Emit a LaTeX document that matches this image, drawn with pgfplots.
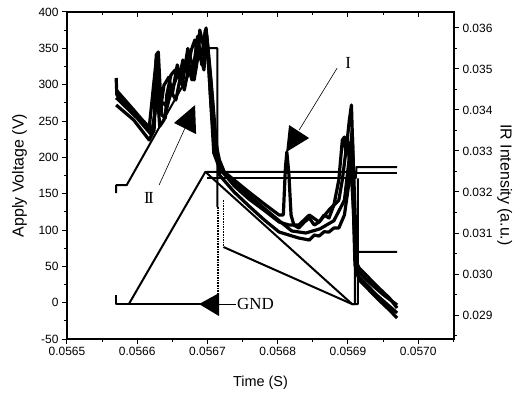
\documentclass[border=0pt]{standalone}
\usepackage{fontspec}
\setmainfont{Liberation Sans}
\newfontfamily\serifA{Liberation Serif}
\usepackage{pgfplots}
\pgfplotsset{compat=1.18}
\begin{document}
\begin{tikzpicture}
\pgfplotsset{
  common/.style={
    scale only axis, width=387bp, height=327bp,
    xmin=0.0565, xmax=0.057051,
    scaled x ticks=false, scaled y ticks=false,
    axis line style={line width=1.2bp},
    major tick length=5bp, minor tick length=3bp,
    tick style={line width=1bp, black},
    tick label style={font=\fontsize{12}{14}\selectfont},
    /pgf/number format/assume math mode=true,
    xtick={0.0565,0.0566,0.0567,0.0568,0.0569,0.0570},
    minor xtick={0.05655,0.05665,0.05675,0.05685,0.05695,0.05705},
    clip=false,
  },
  volt/.style={black, line width=2bp, line join=round, no markers},
  ir/.style={black, line width=3.2bp, line join=round, no markers},
}
% top ticks (inside)
\begin{axis}[common, ymin=-50, ymax=400,
  axis x line*=top, axis y line=none, tick align=inside,
  xticklabels={}]
\end{axis}
% main axis: voltage
\begin{axis}[common, name=main, ymin=-50, ymax=400,
  tick align=outside, xtick pos=bottom, ytick pos=left,
  xticklabels={0.0565,0.0566,0.0567,0.0568,0.0569,0.0570},
  ytick={-50,0,50,100,150,200,250,300,350,400},
  minor ytick={-25,25,75,125,175,225,275,325,375},
  xlabel={Time (S)}, ylabel={Apply Voltage (V)},
  every axis x label/.style={at={(axis description cs:0.5,-0.135)},anchor=center,font=\fontsize{14.5}{16}\selectfont},
  every axis y label/.style={at={(axis description cs:-0.123,0.5)},rotate=90,anchor=center,font=\fontsize{16}{18}\selectfont},
]
% voltage traces
\addplot[volt] coordinates {(0.056570,150.8)(0.056570,161.8)(0.056585,161.8)(0.056695,350.3)(0.056714,350.3)(0.056714,131.5)};
\addplot[black, line width=1.6bp, densely dotted, no markers] coordinates {(0.056715,131.5)(0.056715,-2)};
\addplot[volt] coordinates {(0.056570,10)(0.056570,-2)(0.056715,-2)};
\addplot[volt] coordinates {(0.056588,-2)(0.056697,180)(0.056912,180)(0.056912,186.6)(0.056970,186.6)};
\addplot[volt] coordinates {(0.056697,180)(0.056906,-2)(0.056910,-2)(0.056910,70)(0.056970,70)};
\addplot[volt] coordinates {(0.056700,171)(0.056912,171)(0.056912,178.4)(0.056970,178.4)};
\addplot[black, line width=1.6bp, densely dotted, no markers] coordinates {(0.056723,141)(0.056723,76.5)};
\addplot[volt] coordinates {(0.056723,76.5)(0.056906,-2)(0.056914,-2)(0.056914,171)};
% annotations
\draw[line width=0.6bp] (axis cs:0.0568846,322.8) -- (axis cs:0.0568305,237.5);
\fill (axis cs:0.0568162,244.4) -- (axis cs:0.0568447,226.5) -- (axis cs:0.0568120,207.2) -- cycle;
\node[font=\serifA\fontsize{17}{17}\selectfont] at (axis cs:0.0569003,329.7) {I};
\draw[line width=0.6bp] (axis cs:0.0566681,240.4) -- (axis cs:0.0566311,161.8);
\fill (axis cs:0.0566524,247.3) -- (axis cs:0.0566823,271.9) -- (axis cs:0.0566838,232.0) -- cycle;
\node[font=\serifA\fontsize{17}{17}\selectfont] at (axis cs:0.0566168,143.9) {I\kern-1.6pt I};
\fill (axis cs:0.0566880,-1.9) -- (axis cs:0.0567165,13.2) -- (axis cs:0.0567165,-18.4) -- cycle;
\draw[line width=0.8bp] (axis cs:0.0567165,-2) -- (axis cs:0.0567407,-2);
\node[anchor=west, inner sep=0pt, font=\serifA\fontsize{17}{17}\selectfont] at (axis cs:0.0567420,-2) {GND};
\end{axis}
% right axis: IR intensity
\begin{axis}[common, ymin=0.028415, ymax=0.03639,
  axis x line=none, axis y line*=right, tick align=outside,
  ytick={0.029,0.030,0.031,0.032,0.033,0.034,0.035,0.036},
  yticklabels={0.029,0.030,0.031,0.032,0.033,0.034,0.035,0.036},
  minor ytick={0.0285,0.0295,0.0305,0.0315,0.0325,0.0335,0.0345,0.0355},
  ylabel={IR Intensity (a.u.)},
  every axis y label/.style={at={(axis description cs:1.131,0.471)},rotate=-90,anchor=center,font=\fontsize{16}{18}\selectfont},
]
\addplot[ir] coordinates {
(0.056570,0.034780)(0.056571,0.034366)(0.056581,0.034171)(0.056595,0.033927)
(0.056610,0.033707)(0.056620,0.033512)(0.056624,0.033634)(0.056627,0.035341)
(0.056630,0.035415)(0.056632,0.034732)(0.056635,0.033878)(0.056640,0.033805)
(0.056642,0.034366)(0.056648,0.034854)(0.056654,0.034976)(0.056660,0.034780)
(0.056665,0.035220)(0.056671,0.034927)(0.056677,0.035463)(0.056682,0.035707)
(0.056687,0.035220)(0.056689,0.035951)(0.056694,0.035585)(0.056698,0.036000)
(0.056702,0.035220)(0.056707,0.034244)(0.056711,0.033268)(0.056717,0.032780)
(0.056724,0.032488)(0.056738,0.032293)(0.056759,0.032000)(0.056781,0.031707)
(0.056802,0.031439)(0.056808,0.031439)(0.056811,0.032600)(0.056813,0.032976)
(0.056816,0.032415)(0.056819,0.031439)(0.056823,0.031195)(0.056830,0.031122)
(0.056838,0.031268)(0.056845,0.031366)(0.056852,0.031195)(0.056859,0.031268)
(0.056866,0.031439)(0.056873,0.031366)(0.056880,0.031683)(0.056887,0.032293)
(0.056892,0.033268)(0.056895,0.033341)(0.056897,0.032951)(0.056902,0.033756)
(0.056905,0.034122)(0.056907,0.032951)(0.056910,0.030341)(0.056916,0.030146)
(0.056930,0.029902)(0.056944,0.029659)(0.056959,0.029415)(0.056970,0.029171)};
\addplot[ir] coordinates {
(0.056570,0.034122)(0.056595,0.033756)(0.056617,0.033268)(0.056624,0.033512)
(0.056627,0.034800)(0.056632,0.033600)(0.056638,0.033756)(0.056645,0.034244)
(0.056652,0.034610)(0.056660,0.034976)(0.056667,0.034488)(0.056674,0.035098)
(0.056681,0.034732)(0.056688,0.035463)(0.056695,0.034976)(0.056699,0.035829)
(0.056705,0.034732)(0.056711,0.033500)(0.056717,0.032415)(0.056738,0.032000)
(0.056759,0.031659)(0.056781,0.031317)(0.056802,0.031024)(0.056816,0.030950)
(0.056830,0.030878)(0.056845,0.030829)(0.056852,0.030950)(0.056859,0.030927)
(0.056866,0.031030)(0.056873,0.031024)(0.056880,0.031122)(0.056887,0.031122)
(0.056895,0.031439)(0.056902,0.032293)(0.056905,0.032537)(0.056907,0.032049)
(0.056910,0.030220)(0.056916,0.029854)(0.056930,0.029610)(0.056944,0.029366)
(0.056959,0.029122)(0.056970,0.028927)};
\addplot[ir] coordinates {
(0.056570,0.034488)(0.056595,0.034000)(0.056617,0.033561)(0.056627,0.035220)
(0.056631,0.034244)(0.056640,0.034122)(0.056647,0.034488)(0.056655,0.034244)
(0.056662,0.034854)(0.056670,0.035220)(0.056678,0.034732)(0.056685,0.035585)
(0.056692,0.035341)(0.056697,0.035951)(0.056702,0.034976)(0.056709,0.032951)
(0.056717,0.032585)(0.056738,0.032150)(0.056759,0.031829)(0.056781,0.031550)
(0.056802,0.031268)(0.056816,0.031195)(0.056830,0.031195)(0.056845,0.031439)
(0.056859,0.031268)(0.056873,0.031561)(0.056887,0.031800)(0.056892,0.032293)
(0.056899,0.033268)(0.056902,0.032780)(0.056906,0.033512)(0.056909,0.032049)
(0.056913,0.030098)(0.056930,0.029800)(0.056950,0.029500)(0.056970,0.029244)};
\addplot[ir] coordinates {
(0.056570,0.034300)(0.056600,0.033800)(0.056620,0.033400)(0.056626,0.034000)
(0.056629,0.035000)(0.056633,0.034000)(0.056638,0.034600)(0.056645,0.034800)
(0.056650,0.034400)(0.056657,0.035100)(0.056664,0.034600)(0.056672,0.035500)
(0.056680,0.035000)(0.056686,0.035800)(0.056692,0.035100)(0.056700,0.035600)
(0.056704,0.034400)(0.056710,0.033000)(0.056720,0.032500)(0.056740,0.032200)
(0.056760,0.031900)(0.056781,0.031600)(0.056802,0.031300)(0.056820,0.031050)
(0.056840,0.031000)(0.056860,0.031100)(0.056880,0.031300)(0.056895,0.031800)
(0.056903,0.033000)(0.056908,0.031500)(0.056912,0.030000)(0.056940,0.029500)
(0.056970,0.029050)};
\end{axis}
\pgfresetboundingbox
\path[use as bounding box] ([shift={(-67bp,-57bp)}]main.south west) rectangle ([shift={(75bp,12bp)}]main.north east);
\end{tikzpicture}
\end{document}
